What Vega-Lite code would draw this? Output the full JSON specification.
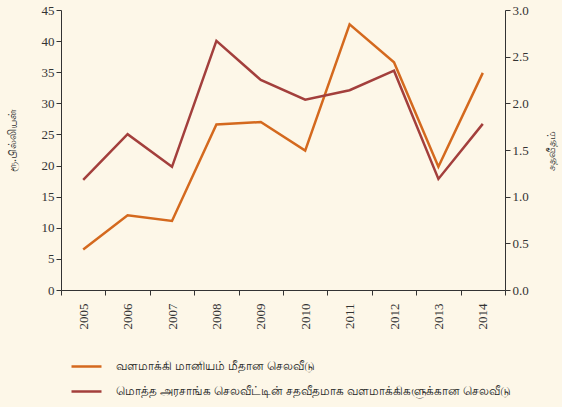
{
  "$schema": "https://vega.github.io/schema/vega-lite/v6.json",
  "width": 444,
  "height": 280,
  "autosize": {"type": "none"},
  "padding": {"left": 61, "top": 10, "right": 57, "bottom": 117},
  "background": "#fdf7e8",
  "config": {
    "view": {"stroke": null},
    "axis": {
      "domainColor": "#333333",
      "tickColor": "#333333",
      "labelColor": "#333333",
      "titleColor": "#333333",
      "labelFont": "Liberation Serif",
      "labelFontSize": 13,
      "titleFont": "Noto Sans",
      "titleFontSize": 11,
      "titleFontWeight": "normal",
      "tickSize": 5,
      "grid": false
    },
    "legend": {
      "labelFont": "Noto Sans",
      "labelFontSize": 11.6,
      "labelColor": "#222222"
    }
  },
  "data": {
    "values": [
      {"year": "2005", "series": "a", "value": 6.5},
      {"year": "2006", "series": "a", "value": 12.0},
      {"year": "2007", "series": "a", "value": 11.1},
      {"year": "2008", "series": "a", "value": 26.6},
      {"year": "2009", "series": "a", "value": 27.0},
      {"year": "2010", "series": "a", "value": 22.4},
      {"year": "2011", "series": "a", "value": 42.7},
      {"year": "2012", "series": "a", "value": 36.6},
      {"year": "2013", "series": "a", "value": 19.8},
      {"year": "2014", "series": "a", "value": 34.9},
      {"year": "2005", "series": "b", "value": 1.18},
      {"year": "2006", "series": "b", "value": 1.67},
      {"year": "2007", "series": "b", "value": 1.32},
      {"year": "2008", "series": "b", "value": 2.67},
      {"year": "2009", "series": "b", "value": 2.25},
      {"year": "2010", "series": "b", "value": 2.04},
      {"year": "2011", "series": "b", "value": 2.14},
      {"year": "2012", "series": "b", "value": 2.35},
      {"year": "2013", "series": "b", "value": 1.19},
      {"year": "2014", "series": "b", "value": 1.78}
    ]
  },
  "transform": [
    {"lookup": "series", "from": {"data": {"values": [
      {"series": "a", "label": "வளமாக்கி மானியம் மீதான செலவீடு"},
      {"series": "b", "label": "மொத்த அரசாங்க செலவீட்டின் சதவீதமாக வளமாக்கிகளுக்கான செலவீடு"}
    ]}, "key": "series", "fields": ["label"]}}
  ],
  "encoding": {
    "x": {
      "field": "year",
      "type": "ordinal",
      "bandPosition": 0.5,
      "scale": {"type": "band", "paddingInner": 0, "paddingOuter": 0},
      "axis": {"title": null, "labelAngle": -90, "tickBand": "extent", "labelPadding": 8}
    },
    "color": {
      "field": "label",
      "type": "nominal",
      "scale": {
        "domain": ["வளமாக்கி மானியம் மீதான செலவீடு", "மொத்த அரசாங்க செலவீட்டின் சதவீதமாக வளமாக்கிகளுக்கான செலவீடு"],
        "range": ["#d4691e", "#a33f3c"]
      },
      "legend": {
        "title": null,
        "orient": "none",
        "legendX": 9,
        "legendY": 340,
        "symbolType": "stroke",
        "symbolSize": 900,
        "symbolStrokeWidth": 2.5,
        "labelOffset": 13,
        "rowPadding": 2,
        "labelLimit": 500
      }
    }
  },
  "layer": [
    {
      "transform": [{"filter": "datum.series === 'a'"}],
      "mark": {"type": "line", "strokeWidth": 2.5},
      "encoding": {
        "y": {
          "field": "value",
          "type": "quantitative",
          "scale": {"domain": [0, 45], "nice": false},
          "axis": {"title": "ரூ.பில்லியன்", "values": [0, 5, 10, 15, 20, 25, 30, 35, 40, 45], "titlePadding": 24, "titleY": 130}
        }
      }
    },
    {
      "transform": [{"filter": "datum.series === 'b'"}],
      "mark": {"type": "line", "strokeWidth": 2.5},
      "encoding": {
        "y": {
          "field": "value",
          "type": "quantitative",
          "scale": {"domain": [0, 3], "nice": false},
          "axis": {"title": "சதவீதம்", "orient": "right", "format": ".1f", "values": [0, 0.5, 1, 1.5, 2, 2.5, 3], "titleAngle": 270, "titlePadding": 28}
        }
      }
    }
  ],
  "resolve": {"scale": {"y": "independent"}}
}
